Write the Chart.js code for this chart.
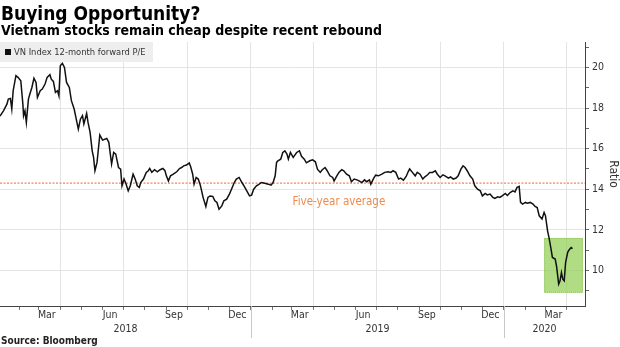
<!DOCTYPE html>
<html>
<head>
<meta charset="utf-8">
<script src="https://cdn.jsdelivr.net/npm/chart.js@4.4.1/dist/chart.umd.min.js"></script>
<style>
html,body{margin:0;padding:0;background:#fff}
#wrap{position:relative;width:620px;height:347px;overflow:hidden}
canvas{position:absolute;left:0;top:0}
.txt{position:absolute;left:1px;white-space:nowrap;font-family:"DejaVu Sans Condensed","DejaVu Sans",sans-serif;font-stretch:condensed;font-weight:bold;color:#000;line-height:1}
#title{top:4px;font-size:19px}
#sub{top:23px;font-size:14px}
#src{top:336px;font-size:10px;color:#222}
</style>
</head>
<body>
<div id="wrap">
  <canvas id="c" width="620" height="347"></canvas>
  <div class="txt" id="title">Buying Opportunity?</div>
  <div class="txt" id="sub">Vietnam stocks remain cheap despite recent rebound</div>
  <div class="txt" id="src">Source: Bloomberg</div>
</div>
<script>
/* --- DATA --- */
// days since 1 Jan 2018
const days = [3,8,13,15,18,20,22,26,29,33,36,37,39,41,44,46,49,52,55,57,61,64,68,71,75,77,80,83,86,88,
  90,93,96,99,103,106,110,113,116,119,122,124,128,130,133,136,138,140,143,147,151,157,160,164,167,170,174,177,179,182,
  185,188,191,195,198,201,204,206,210,214,217,219,222,226,230,234,238,241,243,246,249,253,258,262,265,268,272,276,278,281,
  283,286,289,292,296,300,303,306,310,313,316,319,323,326,330,334,337,341,344,348,352,355,359,363,366,369,373,377,380,385,
  390,394,397,400,402,404,408,411,414,417,419,422,426,431,435,438,442,445,450,454,458,461,465,468,472,475,479,483,485,489,
  492,496,499,503,507,510,514,518,521,525,529,532,536,538,542,545,549,554,558,563,567,570,574,578,581,585,589,592,594,598,
  602,605,609,613,616,620,623,627,631,634,638,642,645,650,653,657,661,664,668,671,674,677,681,685,688,692,696,699,703,706,
  710,714,717,721,724,728,732,735,739,743,746,749,752,754,757,761,764,768,772,775,778,781,785,788,790,793,795,798,800,804,
  806,809,811,813,815,817,819,822,824,827,829];
// VN Index 12-month forward P/E
const pe = [17.6,17.86,18.19,18.44,18.47,17.95,18.85,19.59,19.51,19.34,18.19,17.62,17.86,17.29,18.44,18.68,19.01,19.47,19.26,18.52,
  18.85,18.93,19.18,19.51,19.64,19.42,19.31,18.77,18.85,18.6,
  20.08,20.2,20.0,19.26,19.01,18.36,17.95,17.45,16.96,17.45,17.62,17.21,17.73,17.29,16.8,15.89,15.57,14.91,15.32,16.67,16.42,16.5,16.31,15.24,15.81,15.73,15.07,14.99,14.17,14.5,
  14.25,13.92,14.17,14.74,14.5,14.17,14.09,14.33,14.5,14.83,14.91,15.02,14.83,14.96,14.86,14.96,15.02,14.91,14.66,14.41,14.66,14.74,14.86,15.02,15.07,15.15,15.19,15.29,15.12,14.74,
  14.25,14.58,14.5,14.2,13.6,13.15,13.6,13.67,13.65,13.43,13.35,13.02,13.18,13.43,13.51,13.76,14.0,14.33,14.5,14.58,14.33,14.17,13.92,13.67,13.71,14.0,14.17,14.25,14.33,14.29,
  14.25,14.2,14.33,14.66,15.32,15.4,15.48,15.81,15.89,15.73,15.48,15.81,15.57,15.81,15.89,15.62,15.48,15.3,15.4,15.45,15.35,14.99,14.83,14.96,15.07,14.91,14.66,14.58,14.41,14.66,
  14.83,14.96,14.91,14.74,14.66,14.37,14.5,14.46,14.41,14.33,14.46,14.37,14.46,14.25,14.53,14.69,14.66,14.74,14.83,14.86,14.83,14.91,14.83,14.5,14.55,14.45,14.63,14.87,15.0,14.83,
  14.66,14.83,14.74,14.5,14.61,14.71,14.83,14.83,14.91,14.74,14.58,14.71,14.66,14.55,14.61,14.5,14.55,14.66,14.99,15.15,15.07,14.91,14.66,14.5,14.17,14.0,13.92,13.67,13.79,13.72,
  13.76,13.6,13.55,13.63,13.6,13.69,13.79,13.69,13.84,13.92,13.87,14.09,14.14,13.35,13.27,13.35,13.31,13.35,13.27,13.15,13.1,12.69,12.53,12.86,12.69,11.95,11.63,11.05,10.64,10.56,
  10.2,9.33,9.49,9.9,9.57,9.49,10.39,10.89,11.01,11.13,11.08];
const avgPE = 14.3;                 // five-year average
const boxDays = [788, 844];         // highlighted rebound window
const boxPE = [8.9, 11.6];
const yTicks = [9,10,11,12,13,14,15,16,17,18,19,20,21];
const monthNames = ['Jan','Feb','Mar','Apr','May','Jun','Jul','Aug','Sep','Oct','Nov','Dec'];
const labelMonths = [2,5,8,11];
const years = [2018,2019,2020];

const FONT = '"DejaVu Sans Condensed","DejaVu Sans",sans-serif';
const X_MIN = 3, X_MAX = 847;
const DAY = 86400000, T0 = Date.UTC(2018,0,1);
const dayOf = (y,m) => (Date.UTC(y,m,1) - T0) / DAY;

// month starts for ticks
const monthStarts = [];
for(let y=2018; y<=2020; y++) for(let m=0; m<12; m++){
  monthStarts.push({y, m, day:dayOf(y,m), next:dayOf(y,m+1)});
}
const quarterDays = new Set(monthStarts.filter(s=>s.m%3===0).map(s=>s.day));

/* --- PLUGINS --- */
const under = {
  id:'under',
  beforeDatasetsDraw(chart){
    const {ctx, chartArea:a, scales:{x,y}} = chart;
    ctx.save();
    // green highlight box
    const x1 = x.getPixelForValue(boxDays[0]), x2 = x.getPixelForValue(boxDays[1]);
    const y1 = y.getPixelForValue(boxPE[1]), y2 = y.getPixelForValue(boxPE[0]);
    ctx.fillStyle = 'rgba(150,210,90,0.75)';
    ctx.fillRect(x1, y1, x2-x1, y2-y1);
    ctx.strokeStyle = '#8cc653'; ctx.lineWidth = 1; ctx.setLineDash([1,1]);
    ctx.strokeRect(x1+0.5, y1+0.5, x2-x1-1, y2-y1-1);
    ctx.setLineDash([]);
    // legend box
    ctx.fillStyle = '#eeeeee';
    ctx.fillRect(a.left, a.top, 153, 20);
    ctx.fillStyle = '#111';
    ctx.fillRect(a.left+5, a.top+7, 6, 6);
    ctx.font = '9.3px ' + FONT; ctx.fillStyle = '#333';
    ctx.textBaseline = 'middle'; ctx.textAlign = 'left';
    ctx.fillText(chart.data.datasets[0].label, a.left+14, a.top+10.5);
    ctx.restore();
  },
  afterDatasetsDraw(chart){
    const {ctx, scales:{x,y}} = chart;
    ctx.save();
    ctx.font = '11.5px ' + FONT; ctx.fillStyle = '#ee8a4a';
    ctx.textAlign = 'center'; ctx.textBaseline = 'middle';
    ctx.fillText('Five-year average', x.getPixelForValue(492), y.getPixelForValue(13.35));
    ctx.restore();
  }
};

const xLabels = {
  id:'xLabels',
  afterDraw(chart){
    const {ctx, chartArea:a, scales:{x}} = chart;
    ctx.save();
    ctx.font = '10.5px ' + FONT; ctx.fillStyle = '#333';
    ctx.textAlign = 'center'; ctx.textBaseline = 'middle';
    monthStarts.forEach(s=>{
      if(!labelMonths.includes(s.m)) return;
      const px = x.getPixelForValue((s.day + s.next)/2 - 4);
      if(px < a.left+6 || px > a.right-6) return;
      ctx.fillText(monthNames[s.m], px, a.bottom+9);
    });
    years.forEach(yr=>{
      const s = Math.max(X_MIN, dayOf(yr,0)), e = Math.min(X_MAX, dayOf(yr+1,0));
      ctx.fillText(String(yr), (x.getPixelForValue(s)+x.getPixelForValue(e))/2, a.bottom+23);
      if(dayOf(yr,0) > X_MIN){
        const px = Math.round(x.getPixelForValue(dayOf(yr,0)))+0.5;
        ctx.strokeStyle = '#c8c8c8'; ctx.lineWidth = 1;
        ctx.beginPath(); ctx.moveTo(px, a.bottom); ctx.lineTo(px, a.bottom+32); ctx.stroke();
      }
    });
    ctx.restore();
  }
};

/* --- CHART --- */
Chart.defaults.font.family = FONT;
new Chart(document.getElementById('c'), {
  type:'line',
  data:{datasets:[
    {label:'VN Index 12-month forward P/E', data:days.map((d,i)=>({x:d, y:pe[i]})),
     borderColor:'#111', borderWidth:1.5, pointRadius:0, tension:0, order:0},
    {label:'Five-year average', data:[{x:X_MIN, y:avgPE},{x:X_MAX, y:avgPE}],
     borderColor:'#f0845a', borderWidth:1.2, borderDash:[2,1.5], pointRadius:0, order:1}
  ]},
  options:{
    responsive:false, animation:false, devicePixelRatio:1,
    layout:{padding:{top:42, left:0, right:0, bottom:37}},
    plugins:{legend:{display:false}, tooltip:{enabled:false}},
    scales:{
      x:{type:'linear', min:X_MIN, max:X_MAX,
        afterBuildTicks:s=>{ s.ticks = monthStarts.filter(m=>m.day>=X_MIN && m.day<=X_MAX).map(m=>({value:m.day})); },
        afterFit:s=>{ s.height = 4; },
        ticks:{display:false},
        grid:{color:c=>quarterDays.has(c.tick && c.tick.value) ? '#e4e4e4' : 'rgba(0,0,0,0)',
              tickColor:'#777', tickLength:4},
        border:{color:'#444'}},
      y:{position:'right', min:8.25, max:21.25,
        afterBuildTicks:s=>{ s.ticks = yTicks.map(v=>({value:v})); },
        afterFit:s=>{ s.width = 35; },
        ticks:{callback:v=>v%2===0 ? v : '', color:'#333', font:{size:10.5}, padding:3},
        grid:{color:c=>(c.tick && c.tick.value%2===0) ? '#e4e4e4' : 'rgba(0,0,0,0)',
              tickColor:'#666', tickLength:4},
        border:{color:'#444'},
        title:{display:true, text:'Ratio', color:'#333', font:{size:12}, padding:{top:0, bottom:2}}}
    }
  },
  plugins:[under, xLabels]
});
</script>
</body>
</html>
